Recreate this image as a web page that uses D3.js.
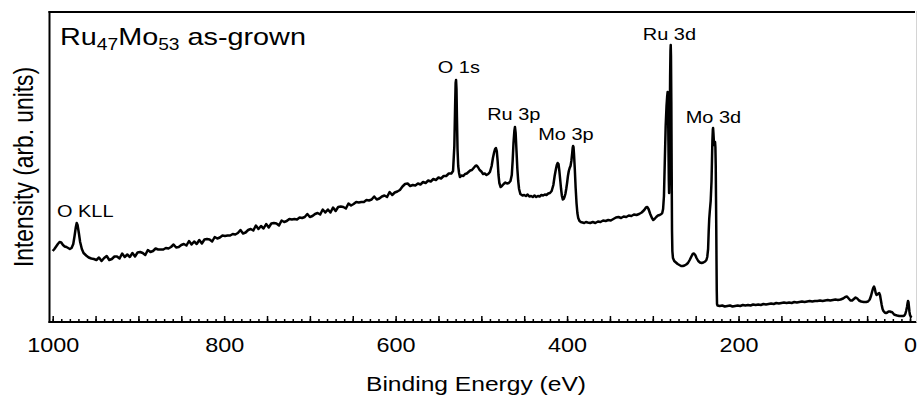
<!DOCTYPE html>
<html>
<head>
<meta charset="utf-8">
<script src="https://cdn.jsdelivr.net/npm/d3@7"></script>
<style>
  html, body { margin: 0; padding: 0; background: #fff; }
  svg { display: block; }
</style>
</head>
<body>
<svg id="chart" width="918" height="398"></svg>
<script>
// XPS survey spectrum of as-grown Ru47Mo53: binding energy (eV) and intensity (arb. units)
const energy = [
  1000, 998, 996, 994, 992, 990, 988, 986, 984, 982, 980, 978, 976, 974.5, 973, 972, 971, 969.5, 968, 966, 964, 961, 958, 955, 952, 949,
  946, 943, 940, 937, 934, 931, 928, 925, 922, 919, 916, 913, 910, 907, 904, 901, 898, 895, 892, 889, 886, 883, 880, 877, 874, 871,
  868, 865, 862, 859, 856, 853, 850, 847, 844, 841, 838, 835, 832, 829, 826, 823, 820, 817, 814, 811, 808, 805, 802, 799, 796, 793,
  790, 787, 784, 781, 778, 775, 772, 769, 766, 763, 760, 757, 754, 751, 748, 745, 742, 739, 736, 733, 730, 727, 724, 721, 718, 715,
  712, 709, 706, 703, 700, 697, 694, 691, 688, 685, 682, 679, 676, 673, 670, 667, 664, 661, 658, 655, 652, 649, 646, 643, 640, 637,
  634, 631, 628, 625, 622, 619, 616, 613, 610, 607, 604, 601, 598, 595, 592, 589, 586, 583, 580, 577, 574, 571, 568, 565, 562, 559,
  556, 553, 550, 547, 544, 541, 538, 535, 533, 531.5, 530.6, 530, 529.5, 529, 528.5, 527.8, 527, 526, 525, 523, 521, 519, 517, 515,
  513, 511, 509, 507, 505.5, 504, 502, 500, 498, 496, 494, 492, 490, 488, 486.5, 485, 484, 483, 482, 481, 480, 479, 477.5, 476, 474,
  472, 470, 468, 466, 464.5, 463.5, 462.5, 461.5, 460.8, 460, 459, 458, 457, 456, 454.5, 452, 450, 448, 446, 444, 442, 440, 438, 436,
  434, 432, 430, 428, 426, 424, 422, 420, 418, 416, 414.5, 413, 412, 411, 410, 409, 408, 407, 406, 405, 404, 403, 402, 401, 400, 399,
  398, 397, 396, 395, 394, 393.5, 393, 392.5, 392, 391, 390, 389, 388, 387, 385.5, 384, 382, 380, 378, 376, 373, 370, 367, 364, 361,
  358, 355, 352, 349, 346, 343, 340, 337, 334, 331, 328, 325, 322, 319, 316, 313, 310, 308, 306.5, 305, 303, 301, 299.5, 298, 296,
  294, 292, 290, 289, 288, 287, 286, 285, 284, 283.3, 282.7, 282.2, 281.8, 281.3, 281, 280.6, 280.2, 279.8, 279.4, 279.1, 278.8,
  278.4, 278, 277.6, 277.2, 276.5, 275, 273, 271, 269, 267, 265, 263, 261, 259, 257, 255, 253.5, 252, 250.5, 249, 247, 245, 243, 241,
  239, 237.5, 236.5, 235.5, 234.8, 234.2, 233.5, 232.5, 231.5, 231, 230.5, 230, 229.7, 229.3, 228.8, 228.3, 227.8, 227.4, 227, 226.6,
  226.3, 226, 225.7, 225.4, 225.1, 224.5, 222, 219, 216, 213, 210, 207, 204, 201, 198, 195, 192, 189, 186, 183, 180, 177, 174, 171,
  168, 165, 162, 159, 156, 153, 150, 147, 144, 141, 138, 135, 132, 129, 126, 123, 120, 117, 114, 111, 108, 105, 102, 99, 96, 93, 90,
  87, 84, 81, 78, 75.5, 73.5, 71.5, 69.5, 67.5, 65.5, 63.5, 61.5, 59.5, 57, 54, 51, 49, 47, 45.5, 44, 43, 42, 41, 40, 39, 38, 37, 36,
  35, 34, 33, 32, 31, 29.5, 28, 26.5, 25, 23.5, 22, 21, 20, 18.5, 17, 15, 12.5, 10, 8, 6.5, 5.5, 4.5, 3.5, 2.8, 2.3, 1.8, 1.2, 0.6,
  0, -1.2, -2
];
const intensity = [
  70, 72, 74.5, 77, 79, 78.5, 76, 74.5, 74, 73, 72, 73, 77, 85, 94, 98, 96, 88, 79, 72, 68, 65.5, 63.5, 62.5, 62, 61,
  63.5, 60, 63, 65, 61, 62, 64.5, 64.5, 62.5, 67.5, 64, 66.5, 64, 68, 64.5, 68.5, 69, 68, 66, 71, 69, 70, 72.5, 71.5, 71.5, 71.5,
  73, 72.5, 74, 76.5, 73.5, 74, 76, 77, 75.5, 80, 76.5, 79.5, 77, 81, 77.5, 81.5, 82, 81.5, 79.5, 84, 82.5, 83.5, 85.5, 85, 85.5, 85.5,
  87, 86.5, 88, 91, 87.5, 88.5, 91, 92, 90.5, 95.5, 92, 95, 92.5, 97, 93.5, 97.5, 98, 97.5, 95.5, 100.5, 99, 100, 102, 101.5, 102, 101.5,
  103.5, 103, 104, 107, 104, 105, 107, 108, 106.5, 111.5, 108.5, 111.5, 108.5, 113.5, 110, 114, 114.5, 114, 112.5, 117.5, 115.5, 117, 119, 118.5, 119, 119,
  121, 120.5, 121.5, 124.5, 121.5, 122.5, 124.5, 125.5, 124, 129, 126, 128.5, 129.5, 131, 134.5, 137, 137.5, 135, 136, 135.5, 137.5, 136.5, 139, 138, 140.5, 139.5,
  142, 141, 143.5, 142.5, 145, 145, 147.5, 147.5, 150, 175, 215, 238, 241, 232, 205, 172, 155, 148, 144, 145.5, 145, 147, 147.5, 149,
  150.5, 151, 153, 155, 155.5, 154, 151, 149.5, 147, 147.5, 146, 147, 149, 155, 163, 169, 172, 173, 170, 160, 146, 138, 134, 135, 137,
  138.5, 137.5, 138, 140, 146, 160, 178, 190, 194, 188, 170, 152, 140, 132, 127, 125.5, 126, 125, 126.5, 124.5, 125, 124, 125.5, 124,
  125, 124.5, 126, 125.5, 126.5, 126, 127.5, 128, 130, 136, 145, 152, 156, 158, 157, 150, 141, 132, 125, 121.5, 122, 124, 127, 132, 138, 145,
  150, 153, 155, 160, 168, 173, 175, 174, 168, 152, 133, 118, 108, 103, 100, 99, 98.5, 98, 99, 98.5, 98, 99, 98, 99.5, 99,
  100.5, 100, 101, 100.5, 102, 103.5, 104, 103, 104.5, 104, 105.5, 105, 106.5, 106, 107, 108.5, 111, 113.5, 114, 112, 107, 103, 101, 102, 104,
  105.5, 106, 107, 108, 112, 125, 160, 195, 215, 224, 229, 215, 180, 140, 128, 150, 200, 245, 270, 276, 265,
  220, 150, 90, 70, 63, 60, 58.5, 57, 56, 55, 55, 55.5, 56.5, 58, 61, 64.5, 67, 67.5, 66, 63, 60, 58.5, 58, 58.5,
  59.5, 61, 64, 72, 90, 102, 110, 120, 140, 160, 180, 191, 193, 188, 180, 176, 177, 179, 174, 155,
  125, 95, 60, 30, 17, 15.5, 15, 15.5, 14.5, 15, 15.5, 14.5, 15, 15.5, 15, 16, 15.5, 16, 15.5, 16.5, 16, 16.5, 16, 17,
  16.5, 17, 17.5, 17, 18, 17.5, 18, 18.5, 18, 18.5, 18, 19, 18.5, 19, 19.5, 19, 19.5, 20, 19.5, 20, 20, 20.5, 20, 20.5, 21, 20.5, 21,
  21.5, 21, 21.5, 22.5, 24, 24.5, 22.5, 20.5, 20.5, 22, 23.5, 22.5, 20.5, 19.5, 19, 19, 19.5, 21.5, 25, 30, 33, 34.5, 32, 28, 26, 26.5, 27.5, 28,
  26, 21, 16, 12, 10, 8.5, 8, 8.5, 9.5, 9.5, 9, 9, 8, 6.5, 6, 5.5, 5, 5, 5, 5.5, 7, 10, 14, 18, 20, 19, 14, 9,
  6, 4, 3.5
];

// Axis ticks and peak annotations
const tickLabels = [1000, 800, 600, 400, 200, 0];
const peakNames = ["O KLL", "O 1s", "Ru 3p", "Mo 3p", "Ru 3d", "Mo 3d"];
const peakLabelEnergy = [962, 526.3, 462.2, 401.4, 280.6, 229.3];
const peakLabelLevel = [104.3, 247.7, 201, 181, 281, 197.7];

const FONT = '"Liberation Sans", Arial, Helvetica, sans-serif';
const STRETCH = 1.2;

const svg = d3.select("#chart");
svg.append("rect").attr("width", 918).attr("height", 398).attr("fill", "#fff");

const x = d3.scaleLinear().domain([1000, 0]).range([52.7, 910]);
const y = d3.scaleLinear().domain([0, 309]).range([321, 12]);

const axisY = 322;

// Minor ticks every 10 eV, major every 50 eV, pointing into the plot
const minor = d3.axisBottom(x).tickValues(d3.range(0, 1001, 10)).tickSize(-3).tickFormat("");
const major = d3.axisBottom(x).tickValues(d3.range(0, 1001, 50)).tickSize(-6).tickFormat("");
const labelled = d3.axisBottom(x).tickValues(tickLabels).tickSize(0).tickPadding(16).tickFormat(d3.format("d"));

[minor, major].forEach(ax => {
  const g = svg.append("g").attr("transform", `translate(0,${axisY})`).call(ax);
  g.select(".domain").remove();
  g.selectAll(".tick line").attr("stroke", "#000").attr("stroke-width", 1.5);
});
const gl = svg.append("g").attr("transform", `translate(0,${axisY})`).call(labelled);
gl.select(".domain").remove();
gl.selectAll(".tick line").remove();
gl.selectAll(".tick text")
  .attr("fill", "#000")
  .attr("font-family", FONT)
  .attr("font-size", 19.5)
  .attr("transform", `scale(${STRETCH},1)`);

// Frame
svg.append("line").attr("x1", 48.5).attr("x2", 915).attr("y1", 12).attr("y2", 12)
  .attr("stroke", "#000").attr("stroke-width", 2);
svg.append("line").attr("x1", 49.5).attr("x2", 49.5).attr("y1", 11).attr("y2", axisY + 1)
  .attr("stroke", "#000").attr("stroke-width", 2);
svg.append("line").attr("x1", 48.5).attr("x2", 916.5).attr("y1", axisY).attr("y2", axisY)
  .attr("stroke", "#000").attr("stroke-width", 2);
svg.append("line").attr("x1", 916.5).attr("x2", 916.5).attr("y1", 11).attr("y2", axisY)
  .attr("stroke", "#d4d4d4").attr("stroke-width", 1);

// Spectrum
const pts = energy.map((e, i) => [e, intensity[i]]);
svg.append("path")
  .datum(pts)
  .attr("fill", "none")
  .attr("stroke", "#000")
  .attr("stroke-width", 2.5)
  .attr("stroke-linejoin", "round")
  .attr("d", d3.line().x(d => x(d[0])).y(d => y(d[1])));

// Peak labels
peakNames.forEach((name, i) => {
  svg.append("text")
    .attr("transform", `translate(${x(peakLabelEnergy[i])},${y(peakLabelLevel[i])}) scale(1.21,1)`)
    .attr("text-anchor", "middle")
    .attr("font-family", FONT)
    .attr("font-size", 16.5)
    .attr("fill", "#000")
    .text(name);
});

// Sample title with subscripts
const title = svg.append("text")
  .attr("transform", `translate(60,45) scale(${STRETCH},1)`)
  .attr("font-family", FONT)
  .attr("font-size", 24)
  .attr("fill", "#000");
title.append("tspan").text("Ru");
title.append("tspan").attr("font-size", 16).attr("dy", 5).text("47");
title.append("tspan").attr("dy", -5).text("Mo");
title.append("tspan").attr("font-size", 16).attr("dy", 5).text("53");
title.append("tspan").attr("dy", -5).text(" as-grown");

// Axis titles
svg.append("text")
  .attr("transform", `translate(476,391) scale(${STRETCH},1)`)
  .attr("text-anchor", "middle")
  .attr("font-family", FONT)
  .attr("font-size", 20.5)
  .attr("fill", "#000")
  .text("Binding Energy (eV)");

svg.append("text")
  .attr("transform", `translate(33,167) scale(${STRETCH},1) rotate(-90)`)
  .attr("text-anchor", "middle")
  .attr("font-family", FONT)
  .attr("font-size", 22.8)
  .attr("fill", "#000")
  .text("Intensity (arb. units)");
</script>
</body>
</html>
